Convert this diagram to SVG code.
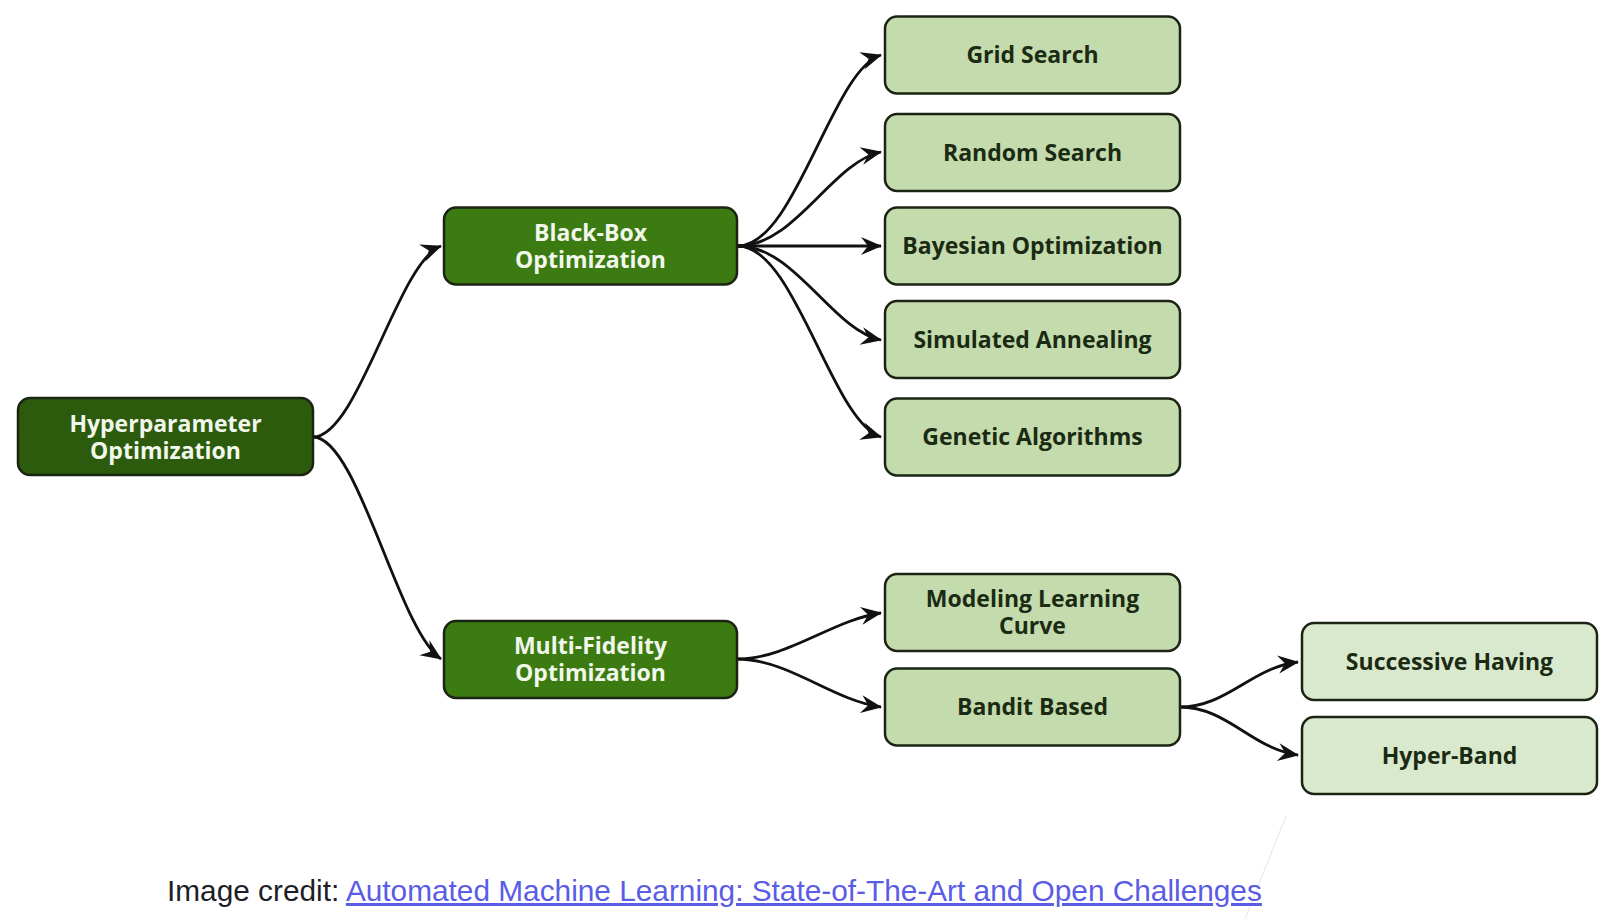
<svg xmlns="http://www.w3.org/2000/svg" width="1610" height="920" viewBox="0 0 1610 920">
  <style>
    .box { stroke: #1b2413; stroke-width: 2.5; }
    .root { fill: #2c5b0d; }
    .mid { fill: #3c7b12; }
    .leaf { fill: #c3dbad; }
    .leaf2 { fill: #d9e9cd; }
    .lt { font-family: "Open Sans", "DejaVu Sans", sans-serif; font-weight: 700; font-size: 23px; fill: #f2f7ec; text-anchor: middle; }
    .dt { font-family: "Open Sans", "DejaVu Sans", sans-serif; font-weight: 700; font-size: 23px; fill: #1b2a12; text-anchor: middle; }
    .conn path { fill: none; stroke: #111; stroke-width: 2.8; marker-end: url(#arr); }
    .credit { font-family: "Liberation Sans", Arial, sans-serif; font-size: 29.8px; }
  </style>
  <defs>
    <marker id="arr" viewBox="-22 -11 24 22" refX="0" refY="0" markerWidth="24" markerHeight="22" markerUnits="userSpaceOnUse" orient="auto">
      <path d="M1,0 L-20,-9 L-13,0 L-20,9 Z" fill="#111"/>
    </marker>
  </defs>
  <rect width="1610" height="920" fill="#ffffff"/>

  <g id="connectors" class="conn">
    <path d="M313,437 C358,437 398,262 441,246"/>
    <path d="M313,437 C358,437 398,630 441,659"/>
    <path d="M738,246 C795,246 832,70 881,55"/>
    <path d="M738,246 C795,246 832,162 881,152"/>
    <path d="M738,246 L881,246"/>
    <path d="M738,246 C795,246 832,330 881,340"/>
    <path d="M738,246 C795,246 832,422 881,437"/>
    <path d="M737,659 C788,659 832,620 881,613"/>
    <path d="M737,659 C788,659 832,700 881,707"/>
    <path d="M1179,707 C1228,707 1250,668 1298,662"/>
    <path d="M1179,707 C1228,707 1250,748 1298,755"/>
  </g>

  <g id="n-hyper">
    <rect class="box root" x="18" y="398" width="295" height="77" rx="12"/>
    <text class="lt" x="165.5" y="431.5"><tspan x="165.5" y="431.5">Hyperparameter</tspan><tspan x="165.5" y="458.5">Optimization</tspan></text>
  </g>
  <g id="n-blackbox">
    <rect class="box mid" x="444" y="207.5" width="293" height="77" rx="12"/>
    <text class="lt" x="590.5" y="240.5"><tspan x="590.5" y="240.5">Black-Box</tspan><tspan x="590.5" y="267.5">Optimization</tspan></text>
  </g>
  <g id="n-multifidelity">
    <rect class="box mid" x="444" y="621" width="293" height="77" rx="12"/>
    <text class="lt" x="590.5" y="654"><tspan x="590.5" y="654">Multi-Fidelity</tspan><tspan x="590.5" y="681">Optimization</tspan></text>
  </g>
  <g id="n-grid">
    <rect class="box leaf" x="885" y="16.5" width="295" height="77" rx="12"/>
    <text class="dt" x="1032.5" y="63">Grid Search</text>
  </g>
  <g id="n-random">
    <rect class="box leaf" x="885" y="114" width="295" height="77" rx="12"/>
    <text class="dt" x="1032.5" y="160.5">Random Search</text>
  </g>
  <g id="n-bayesian">
    <rect class="box leaf" x="885" y="207.5" width="295" height="77" rx="12"/>
    <text class="dt" x="1032.5" y="254">Bayesian Optimization</text>
  </g>
  <g id="n-simulated">
    <rect class="box leaf" x="885" y="301" width="295" height="77" rx="12"/>
    <text class="dt" x="1032.5" y="347.5">Simulated Annealing</text>
  </g>
  <g id="n-genetic">
    <rect class="box leaf" x="885" y="398.5" width="295" height="77" rx="12"/>
    <text class="dt" x="1032.5" y="445">Genetic Algorithms</text>
  </g>
  <g id="n-modeling">
    <rect class="box leaf" x="885" y="574" width="295" height="77" rx="12"/>
    <text class="dt" x="1032.5" y="607"><tspan x="1032.5" y="607">Modeling Learning</tspan><tspan x="1032.5" y="634">Curve</tspan></text>
  </g>
  <g id="n-bandit">
    <rect class="box leaf" x="885" y="668.5" width="295" height="77" rx="12"/>
    <text class="dt" x="1032.5" y="715">Bandit Based</text>
  </g>
  <g id="n-successive">
    <rect class="box leaf2" x="1302" y="623" width="295" height="77" rx="12"/>
    <text class="dt" x="1449.5" y="669.5">Successive Having</text>
  </g>
  <g id="n-hyperband">
    <rect class="box leaf2" x="1302" y="717" width="295" height="77" rx="12"/>
    <text class="dt" x="1449.5" y="763.5">Hyper-Band</text>
  </g>

  <line x1="1286" y1="816" x2="1245" y2="919" stroke="#e4e4e4" stroke-width="1"/>

  <text class="credit" x="167" y="901"><tspan fill="#1e1e28">Image credit: </tspan><tspan fill="#5a5ce6" text-decoration="underline">Automated Machine Learning: State-of-The-Art and Open Challenges</tspan></text>
</svg>
